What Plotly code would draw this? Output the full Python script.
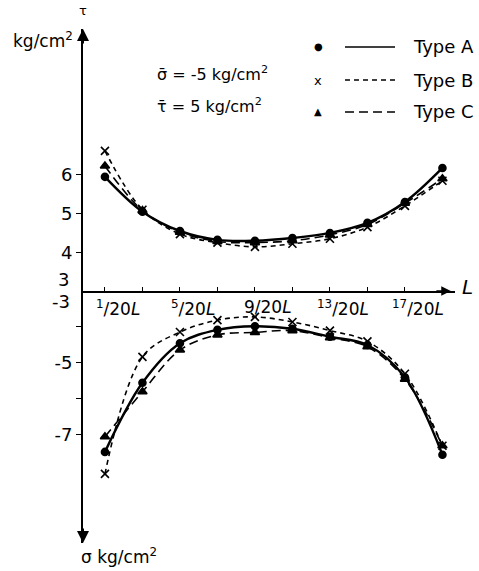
import plotly.graph_objects as go

# Positions along the beam, in units of L/20
positions = [1, 3, 5, 7, 9, 11, 13, 15, 17, 19]

# Shear stress tau (kg/cm^2)
tau_A = [5.95, 5.05, 4.55, 4.32, 4.30, 4.37, 4.50, 4.76, 5.30, 6.18]
tau_B = [6.62, 5.10, 4.47, 4.25, 4.14, 4.22, 4.35, 4.65, 5.20, 5.85]
tau_C = [6.23, 5.08, 4.52, 4.28, 4.25, 4.30, 4.45, 4.72, 5.27, 5.90]

# Normal stress sigma (kg/cm^2)
sig_A = [-7.47, -5.55, -4.45, -4.08, -3.98, -4.05, -4.27, -4.50, -5.40, -7.55]
sig_B = [-8.08, -4.83, -4.14, -3.81, -3.72, -3.86, -4.10, -4.40, -5.30, -7.30]
sig_C = [-7.05, -5.80, -4.64, -4.22, -4.15, -4.10, -4.30, -4.55, -5.45, -7.30]

x_tick_vals = [1, 3, 5, 7, 9, 11, 13, 15, 17]
x_label_vals = [1, 5, 9, 13, 17]
x_label_text = ["<sup>1</sup>/20<i>L</i>", "<sup>5</sup>/20<i>L</i>", "9/20<i>L</i>",
                "<sup>13</sup>/20<i>L</i>", "<sup>17</sup>/20<i>L</i>"]

tau_ticks = [4, 5, 6]
sig_ticks = [-4, -5, -6, -7]
sig_ticktext = ["", "-5", "", "-7"]

FONT = "DejaVu Sans"
styles = {
    "A": dict(dash="solid", width=2.4, symbol="circle", size=7),
    "B": dict(dash="5px,4px", width=1.6, symbol="x-thin-open", size=8),
    "C": dict(dash="9px,5px", width=1.6, symbol="triangle-up", size=8),
}

fig = go.Figure()
for name, t, s in [("A", tau_A, sig_A), ("B", tau_B, sig_B), ("C", tau_C, sig_C)]:
    st = styles[name]
    for vals, xa, ya in [(t, "x", "y"), (s, "x2", "y2")]:
        fig.add_trace(go.Scatter(
            x=positions, y=vals, xaxis=xa, yaxis=ya, mode="lines+markers",
            line=dict(color="black", width=st["width"], dash=st["dash"], shape="spline", smoothing=1.0),
            marker=dict(color="black", symbol=st["symbol"], size=st["size"],
                        line=dict(color="black", width=1.6)),
            showlegend=False, cliponaxis=False,
        ))

X0, X1 = -0.17, 19.67
split = 0.4903

fig.update_layout(
    width=479, height=571,
    margin=dict(l=83, r=24, t=29, b=28),
    paper_bgcolor="white", plot_bgcolor="white",
    font=dict(family=FONT, color="black", size=17),
    xaxis=dict(domain=[0, 1], range=[X0, X1], anchor="y", showline=True, linecolor="black",
               linewidth=2, tickvals=x_tick_vals, ticks="inside", ticklen=4, tickcolor="black",
               showticklabels=False, showgrid=False, zeroline=False),
    xaxis2=dict(domain=[0, 1], range=[X0, X1], anchor="y2", visible=False, matches="x"),
    yaxis=dict(domain=[split, 1], range=[3, 9.77], anchor="x", showline=True, linecolor="black",
               linewidth=2, tickvals=tau_ticks, ticks="outside", ticklen=5, tickcolor="black",
               tickfont=dict(size=18), showgrid=False, zeroline=False),
    yaxis2=dict(domain=[0, split], range=[-10, -3], anchor="x2", showline=True, linecolor="black",
                linewidth=2, tickvals=sig_ticks, ticktext=sig_ticktext, ticks="outside", ticklen=5,
                tickcolor="black", tickfont=dict(size=18), showgrid=False, zeroline=False),
)

ann = []
# x tick labels
for v, txt in zip(x_label_vals, x_label_text):
    ann.append(dict(x=v + 0.7, y=-3, xref="x2", yref="y2", text=txt, showarrow=False,
                    xanchor="center", yanchor="top", yshift=-4, font=dict(size=17)))
# arrows
ann.append(dict(x=X0, y=9.77, xref="x", yref="y", ax=0, ay=16, showarrow=True, arrowcolor="black",
                arrowhead=2, arrowsize=1.2, arrowwidth=2, text=""))
ann.append(dict(x=X0, y=-10, xref="x2", yref="y2", ax=0, ay=-16, showarrow=True, arrowcolor="black",
                arrowhead=2, arrowsize=1.2, arrowwidth=2, text=""))
ann.append(dict(x=19.45, y=3, xref="x", yref="y", ax=-16, ay=0, showarrow=True, arrowcolor="black",
                arrowhead=2, arrowsize=1.2, arrowwidth=1.6, text=""))
# axis labels (pixel positions, converted below)
ann += [
    dict(x=83, y=11, text="τ", font=dict(size=13)),
    dict(x=467, y=287, text="<i>L</i>", font=dict(size=20)),
    dict(x=43, y=40, text="kg/cm<sup>2</sup>", font=dict(size=17)),
    dict(x=119, y=556, text="σ kg/cm<sup>2</sup>", font=dict(size=17)),
    dict(x=212, y=73, text="σ̄ = -5 kg/cm<sup>2</sup>", font=dict(size=16)),
    dict(x=209, y=105, text="τ̄ = 5 kg/cm<sup>2</sup>", font=dict(size=16)),
    dict(x=63, y=279, text="3", font=dict(size=18)),
    dict(x=61, y=301, text="-3", font=dict(size=18)),
]
# custom legend
legend_rows = [("●", "Type A", 47, "solid"), ("x", "Type B", 80, "5px,4px"), ("▲", "Type C", 112, "9px,5px")]
shapes = []
for sym, lab, yy, dash in legend_rows:
    ann.append(dict(x=318, y=yy, text=sym, font=dict(size=10 if sym != "x" else 13)))
    ann.append(dict(x=411, y=yy, text=lab, xanchor="left", font=dict(size=18)))
    shapes.append(dict(type="line", xref="paper", yref="paper", x0=345, x1=395,
                       y0=yy, y1=yy, line=dict(color="black", width=1.6, dash=dash)))

# convert pixel-defined coords (from top-left) to paper fractions of the plot area
W, H = 479 - 83 - 24, 571 - 29 - 28
for a in ann:
    if "xref" not in a:
        a["xref"] = "paper"
        a["yref"] = "paper"
        a["showarrow"] = False
        a.setdefault("xanchor", "center")
        a["yanchor"] = "middle"
        a["x"] = (a["x"] - 83) / W
        a["y"] = (571 - a["y"] - 28) / H
for s in shapes:
    s["x0"] = (s["x0"] - 83) / W
    s["x1"] = (s["x1"] - 83) / W
    s["y0"] = (571 - s["y0"] - 28) / H
    s["y1"] = (571 - s["y1"] - 28) / H

fig.update_layout(annotations=ann, shapes=shapes)
fig.write_html("out.html")
